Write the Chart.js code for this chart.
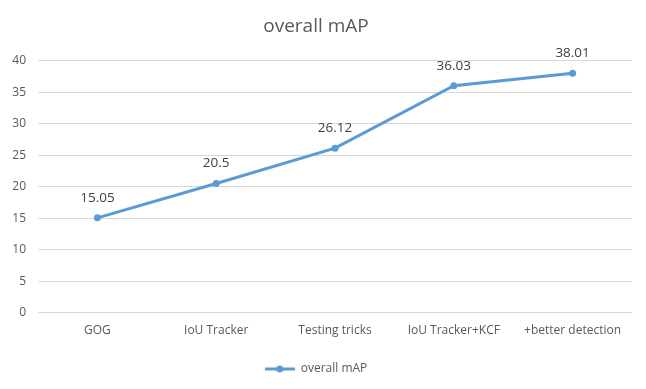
<!DOCTYPE html>
<html><head><meta charset="utf-8">
<script src="https://cdn.jsdelivr.net/npm/chart.js@4"></script>
<style>html,body{margin:0;padding:0;background:#fff}</style>
</head><body>
<canvas id="c" width="646" height="389"></canvas>
<script>
const categories = ["GOG", "IoU Tracker", "Testing tricks", "IoU Tracker+KCF", "+better detection"];
const mapValues = [15.05, 20.5, 26.12, 36.03, 38.01];
const valueLabels = ["15.05", "20.5", "26.12", "36.03", "38.01"];
const seriesName = "overall mAP";
const FONT = "'Open Sans', Lato, sans-serif";
const TXT = "#595959";
const BLUE = "#5B9BD5";

// legend marker: line with dot
const mk = document.createElement('canvas');
mk.width = 30; mk.height = 10;
(function(){const g=mk.getContext('2d');g.strokeStyle=BLUE;g.lineWidth=3;g.beginPath();g.moveTo(0,5);g.lineTo(30,5);g.stroke();g.fillStyle=BLUE;g.beginPath();g.arc(15,5,3.5,0,Math.PI*2);g.fill();})();

const dataLabels = {
  id: 'dataLabels',
  afterDatasetsDraw(chart) {
    const ctx = chart.ctx;
    const meta = chart.getDatasetMeta(0);
    ctx.save();
    ctx.font = "13.5px " + FONT;
    ctx.fillStyle = "#404040";
    ctx.textAlign = "center";
    ctx.textBaseline = "middle";
    meta.data.forEach((p, i) => {
      ctx.fillText(valueLabels[i], p.x, p.y - 20);
    });
    ctx.restore();
  }
};

new Chart(document.getElementById('c'), {
  type: 'line',
  data: {
    labels: categories,
    datasets: [{
      label: seriesName,
      data: mapValues,
      borderColor: BLUE,
      backgroundColor: BLUE,
      borderWidth: 3,
      pointRadius: 3.5,
      pointHoverRadius: 3.5,
      pointBackgroundColor: BLUE,
      pointBorderWidth: 0,
      tension: 0,
      pointStyle: 'circle'
    }]
  },
  options: {
    responsive: false,
    animation: false,
    events: [],
    layout: { padding: { left: 0, right: 14, top: 0, bottom: 4 } },
    plugins: {
      title: {
        display: true, text: "overall mAP", color: TXT,
        font: { family: FONT, size: 19, weight: 'normal' },
        padding: { top: 15, bottom: 23 }
      },
      legend: {
        position: 'bottom',
        labels: {
          color: TXT, font: { family: FONT, size: 12 },
          usePointStyle: true, pointStyleWidth: 30, boxHeight: 10, padding: 12,
          generateLabels(chart) {
            return [{ text: seriesName, pointStyle: mk, fillStyle: BLUE, strokeStyle: BLUE, lineWidth: 0, datasetIndex: 0, fontColor: TXT }];
          }
        }
      },
      tooltip: { enabled: false }
    },
    scales: {
      x: {
        offset: true,
        grid: { display: false, drawTicks: false },
        border: { display: false },
        ticks: { color: TXT, font: { family: FONT, size: 12 }, padding: 11, maxRotation: 0, autoSkip: false },
        afterFit(s) { s.height += 2; }
      },
      y: {
        min: 0, max: 40,
        grid: { color: "#D9D9D9", lineWidth: 1, drawTicks: false },
        border: { display: false },
        ticks: { stepSize: 5, color: TXT, font: { family: FONT, size: 12 }, padding: 12 },
        afterFit(s) { s.width = 38; }
      }
    }
  },
  plugins: [dataLabels]
});
</script>
</body></html>
